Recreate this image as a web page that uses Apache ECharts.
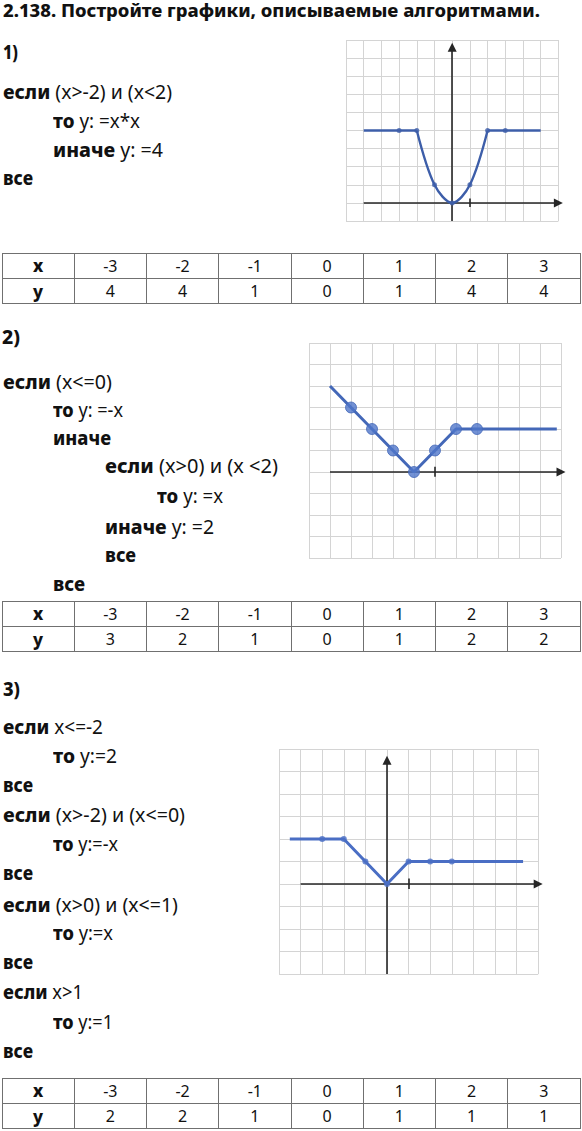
<!DOCTYPE html>
<html><head><meta charset="utf-8">
<script src="https://cdn.jsdelivr.net/npm/echarts@6/dist/echarts.min.js"></script>
<style>
html,body{margin:0;padding:0;background:#fff;}
body{width:582px;height:1131px;overflow:hidden;position:relative;}
.t{position:absolute;white-space:nowrap;font-family:'Noto Sans',sans-serif;color:#111;transform-origin:0 0;line-height:1;font-size:19px;}
.b{font-weight:800;}
.r{font-weight:400;}
.tbl{position:absolute;border-collapse:collapse;table-layout:fixed;font-family:'Noto Sans',sans-serif;}
.tbl td{border:1.3px solid #707070;text-align:center;padding:0;font-size:16px;color:#111;line-height:1;}
.chart{position:absolute;}
</style></head><body>
<script>
// ---------- text content ----------
const titleText = '2.138. Постройте графики, описываемые алгоритмами.';
const partLabels = ['1)', '2)', '3)'];
// [indent level, bold keyword, regular rest]
const algo1 = [[0,'если',' (x>-2) и (x<2)'],[1,'то',' y: =x*x'],[1,'иначе',' y: =4'],[0,'все','']];
const algo2 = [[0,'если',' (x<=0)'],[1,'то',' y: =-x'],[1,'иначе',''],[2,'если',' (x>0) и (x <2)'],[3,'то',' y: =x'],[2,'иначе',' y: =2'],[2,'все',''],[1,'все','']];
const algo3 = [[0,'если',' x<=-2'],[1,'то',' y:=2'],[0,'все',''],[0,'если',' (x>-2) и (x<=0)'],[1,'то',' y:=-x'],[0,'все',''],[0,'если',' (x>0) и (x<=1)'],[1,'то',' y:=x'],[0,'все',''],[0,'если',' x>1'],[1,'то',' y:=1'],[0,'все','']];

// ---------- table / point data ----------
const tableX  = [-3, -2, -1, 0, 1, 2, 3];
const tableY1 = [4, 4, 1, 0, 1, 4, 4];
const tableY2 = [3, 2, 1, 0, 1, 2, 2];
const tableY3 = [2, 2, 1, 0, 1, 1, 1];

// where the drawn lines start / end on the grid paper
const g1Start = [-5, 4], g1End = [5, 4];
const g2Start = [-4, 4], g2End = [6.8, 2];
const g3Start = [-4.5, 2], g3End = [6.3, 1];

// ---------- layout (positions kept separate) ----------
const indentX = [3, 53, 105, 157];
const titleLayout = {x:3, base:16.7, w:537, size:18};
const labelLayout = [{x:3, base:59.3, w:15},{x:2, base:344, w:18},{x:3, base:696, w:17}];
const algoBase1 = [99.3, 128.3, 156.7, 185];
const algoW1 = [169, 87, 110, 30];
const algoBase2 = [389.3, 417, 445, 473.3, 503, 534, 562.3, 590.7];
const algoW2 = [109, 70, 58, 173, 66, 109, 31, 32];
const algoBase3 = [734, 763.3, 791.7, 821.7, 850.7, 880, 911.7, 940, 969.3, 999.3, 1029.3, 1058.3];
const algoW3 = [100, 64, 30, 182, 65, 30, 175, 60, 30, 80, 60, 30];
const tableTops = [252.7, 600.7, 1077.7];

function placeText(html, x, base, w, cls, size){
  const el = document.createElement('div');
  el.className = 't ' + (cls||'');
  if (size) el.style.fontSize = size + 'px';
  el.innerHTML = html;
  const probe = document.createElement('i');
  probe.style.cssText = 'display:inline-block;width:0;height:0;vertical-align:baseline';
  el.appendChild(probe);
  el.style.left = x + 'px'; el.style.top = '0px';
  document.body.appendChild(el);
  const off = probe.offsetTop;
  el.style.top = (base - off) + 'px';
  if (w) {
    const cw = el.getBoundingClientRect().width;
    let s = w / cw; s = Math.max(0.8, Math.min(1.25, s));
    el.style.transform = 'scaleX(' + s + ')';
  }
}
function esc(s){return s.replace(/&/g,'&amp;').replace(/</g,'&lt;').replace(/>/g,'&gt;');}

placeText('<span class="b">'+esc(titleText)+'</span>', titleLayout.x, titleLayout.base, titleLayout.w, '', titleLayout.size);
partLabels.forEach((p,i)=>placeText('<span class="b">'+p+'</span>', labelLayout[i].x, labelLayout[i].base, labelLayout[i].w, '', 19));
function algo(lines, bases, widths){
  lines.forEach((l,i)=>{
    placeText('<span class="b">'+esc(l[1])+'</span><span class="r">'+esc(l[2])+'</span>', indentX[l[0]], bases[i], widths[i]);
  });
}
algo(algo1, algoBase1, algoW1);
algo(algo2, algoBase2, algoW2);
algo(algo3, algoBase3, algoW3);

function makeTable(ys, top){
  const t = document.createElement('table');
  t.className = 'tbl';
  t.style.left = '1.5px'; t.style.top = top + 'px'; t.style.width = '579px';
  let h = '<tr style="height:25.6px"><td style="font-weight:800;font-size:17px">x</td>' + tableX.map(v=>'<td>'+v+'</td>').join('') + '</tr>';
  h += '<tr style="height:25.2px"><td style="font-weight:800;font-size:17px">y</td>' + ys.map(v=>'<td>'+v+'</td>').join('') + '</tr>';
  t.innerHTML = h;
  document.body.appendChild(t);
}
makeTable(tableY1, tableTops[0]);
makeTable(tableY2, tableTops[1]);
makeTable(tableY3, tableTops[2]);

// ---------- graphs ----------
const PAD = 14;
function makeGraph(rect, xr, yr, axX, axY, lineSeries, markers, style){
  const div = document.createElement('div');
  div.className = 'chart';
  div.style.left = (rect.x - PAD) + 'px';
  div.style.top = (rect.y - PAD) + 'px';
  div.style.width = (rect.w + 2*PAD) + 'px';
  div.style.height = (rect.h + 2*PAD) + 'px';
  document.body.appendChild(div);
  const chart = echarts.init(div, null, {renderer:'canvas'});
  const axisCommon = {type:'value', interval:1, axisLine:{show:false}, axisTick:{show:false}, axisLabel:{show:false},
    splitLine:{show:true, lineStyle:{color:'#d4d4d4', width:1}}};
  const series = [{
    type:'line', data:[], silent:true, z:2, animation:false,
    markLine:{silent:true, animation:false, symbol:['none','triangle'], symbolSize:9,
      label:{show:false}, emphasis:{disabled:true},
      lineStyle:{color:'#262626', width:1.6, type:'solid'},
      data:[
        [{coord:[axX[0],0]},{coord:[axX[1],0]}],
        [{coord:[0,axY[0]]},{coord:[0,axY[1]]}],
        [{coord:[1,-0.22], symbol:'none'},{coord:[1,0.25], symbol:'none'}]
      ]}
  }];
  lineSeries.forEach(ls=>series.push(Object.assign({type:'line', showSymbol:false, symbol:'none', z:5, animation:false,
    lineStyle:{color:style.color, width:style.width}}, ls)));
  series.push({type:'scatter', data:markers, z:6, animation:false, symbolSize:style.dot,
    itemStyle:{color:style.dotColor, borderColor:style.color, borderWidth:style.dotBorder}});
  chart.setOption({
    animation:false,
    grid:{left:PAD, top:PAD, width:rect.w, height:rect.h, containLabel:false},
    xAxis:Object.assign({min:xr[0], max:xr[1]}, axisCommon),
    yAxis:Object.assign({min:yr[0], max:yr[1]}, axisCommon),
    series:series
  });
}
const pts = ys => tableX.map((x,i)=>[x, ys[i]]);

// Graph 1
makeGraph({x:345.5, y:39.8, w:212.4, h:181}, [-6,6], [-1,9], [-5,6], [-1,8.6],
  [
    {data:[g1Start, pts(tableY1)[1]]},
    {data:pts(tableY1).slice(1,6), smooth:0.33},
    {data:[pts(tableY1)[5], g1End]}
  ],
  pts(tableY1), {color:'#3d5ea9', width:2.4, dot:5, dotColor:'#3d5ea9', dotBorder:0});

// Graph 2
makeGraph({x:309.3, y:342.7, w:252, h:215}, [-5,7], [-4,6], [-4,7], [-4.1,5.6],
  [ {data:[g2Start].concat(pts(tableY2), [g2End])} ],
  pts(tableY2), {color:'#4468b8', width:3, dot:11, dotColor:'#4f75c9', dotBorder:1});

// Graph 3
makeGraph({x:279.3, y:749, w:259.2, h:225}, [-5,7], [-4,6], [-4,7], [-4,5.5],
  [ {data:[g3Start].concat(pts(tableY3), [g3End])} ],
  pts(tableY3), {color:'#4a6ec4', width:3, dot:6, dotColor:'#4a6ec4', dotBorder:0});
</script>
</body></html>
